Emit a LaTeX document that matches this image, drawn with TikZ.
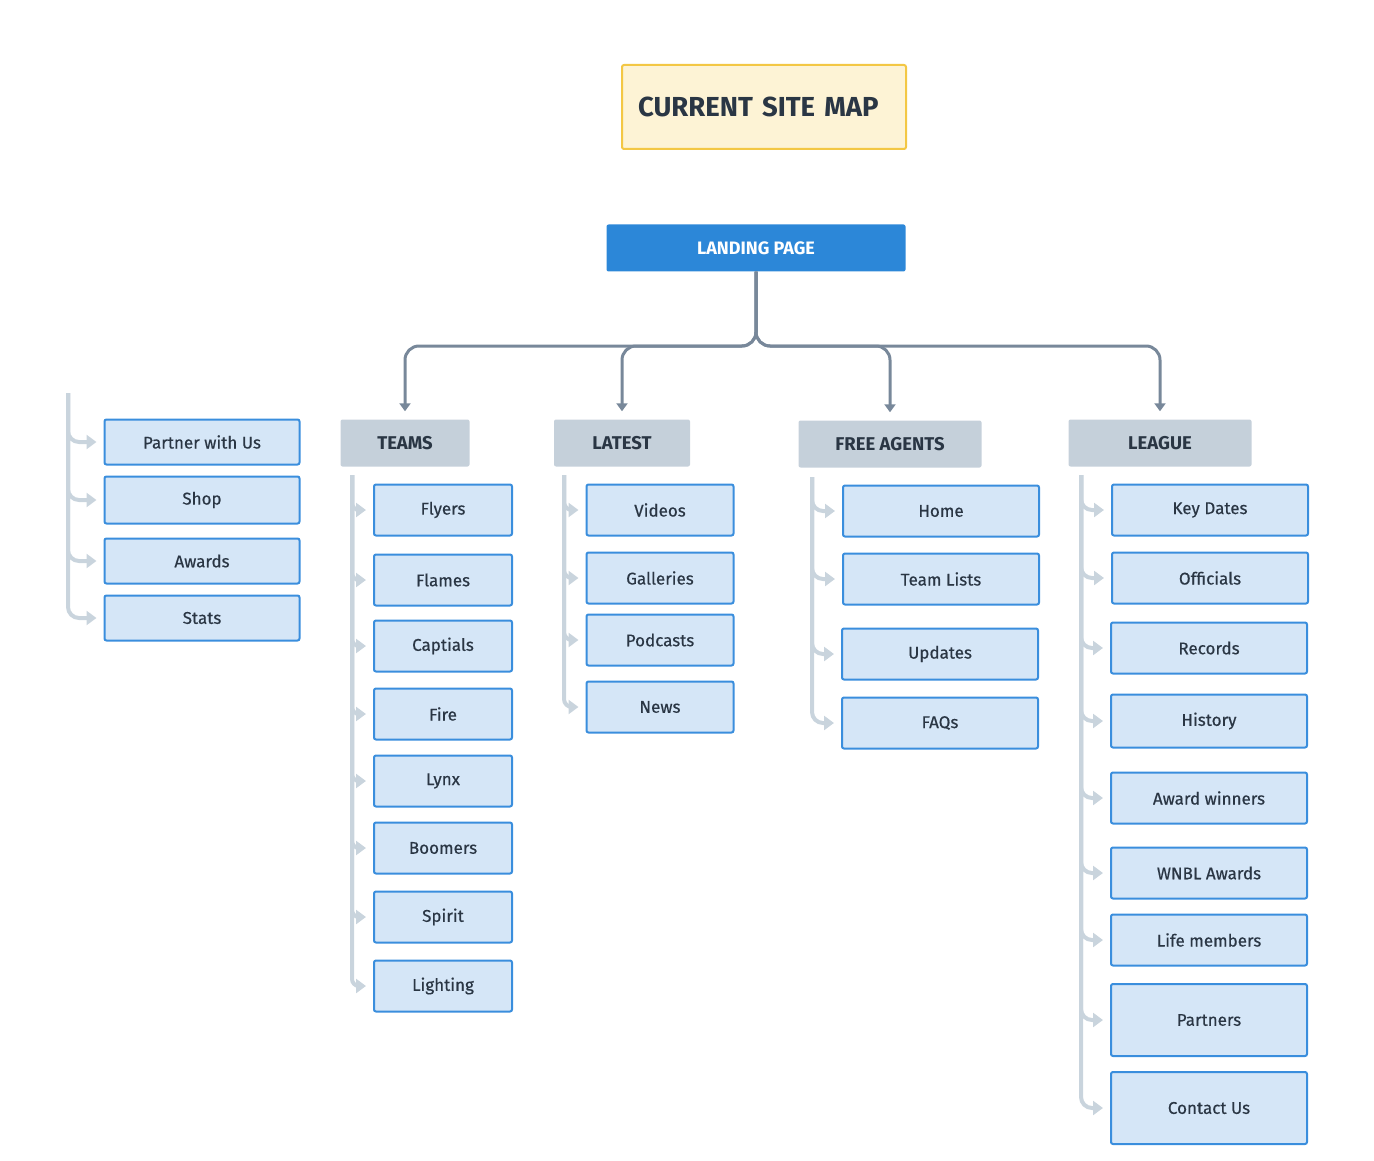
\documentclass[tikz,border=0pt]{standalone}
\usepackage{fontspec}
\setmainfont{Fira Sans}
\newfontfamily\medfont[FakeBold=0.5]{Fira Sans}
\usepackage{tikz}
\usetikzlibrary{arrows.meta}

\definecolor{titlefill}{HTML}{FDF3D5}
\definecolor{titleline}{HTML}{F3C744}
\definecolor{landfill}{HTML}{2C87D8}
\definecolor{catfill}{HTML}{C5D0DA}
\definecolor{leaffill}{HTML}{D5E6F7}
\definecolor{leafline}{HTML}{3A8EDD}
\definecolor{inkdark}{HTML}{2A3644}
\definecolor{linkgray}{HTML}{78889A}
\definecolor{twiggray}{HTML}{C9D4DD}

\tikzset{
	titlebox/.style={draw=titleline, fill=titlefill, line width=2pt, rounded corners=2pt,
		text width=252, align=left, inner xsep=16, minimum height=84,
		text=inkdark, font=\fontsize{27.5}{30}\selectfont\bfseries},
	landbox/.style={fill=landfill, rounded corners=2pt, minimum width=299, minimum height=47,
		text=white, font=\fontsize{18}{20}\selectfont\bfseries},
	catbox/.style={fill=catfill, rounded corners=2pt, minimum height=47,
		text=inkdark, font=\fontsize{18.5}{20}\selectfont\bfseries},
	leaf/.style={draw=leafline, fill=leaffill, line width=2pt, rounded corners=2pt,
		minimum height=51, text=inkdark, font=\fontsize{17}{20}\selectfont\medfont},
	link/.style={draw=linkgray, line width=3pt, rounded corners=14pt,
		-{Triangle[length=8pt,width=11pt]}, shorten >=8pt},
	twig/.style={draw=twiggray, line width=4pt, rounded corners=11pt,
		-{Triangle[length=10pt,width=14pt]}, shorten >=7pt}
}

\begin{document}
\begin{tikzpicture}[x=1pt, y=-1pt]

	\useasboundingbox (0,0) rectangle (1374,1161);

	\node[titlebox] (title) at (764,107) {CURRENT SITE MAP};
	\node[landbox] (landing) at (756,248) {LANDING PAGE};

	\node[catbox, minimum width=129] (teams) at (405,443) {TEAMS};
	\node[catbox, minimum width=136] (latest) at (622,443) {LATEST};
	\node[catbox, minimum width=183] (agents) at (890,444) {FREE AGENTS};
	\node[catbox, minimum width=183] (league) at (1160,443) {LEAGUE};

	\coordinate (bar) at (0,346);
	\foreach \h in {teams,latest,agents,league}
		\draw[link] (landing.south) |- (\h.north |- bar) -- (\h.north);

	% loose pages
	\node[leaf, minimum width=195, minimum height=45] (partner) at (202,442) {Partner with Us};
	\node[leaf, minimum width=195, minimum height=47] (shop) at (202,500) {Shop};
	\node[leaf, minimum width=195, minimum height=45] (awards) at (202,561) {Awards};
	\node[leaf, minimum width=195, minimum height=45] (stats) at (202,618) {Stats};

	% teams
	\node[leaf, minimum width=138] (flyers) at (443,510) {Flyers};
	\node[leaf, minimum width=138] (flames) at (443,580) {Flames};
	\node[leaf, minimum width=138] (captials) at (443,646) {Captials};
	\node[leaf, minimum width=138] (fire) at (443,714) {Fire};
	\node[leaf, minimum width=138] (lynx) at (443,781) {Lynx};
	\node[leaf, minimum width=138] (boomers) at (443,848) {Boomers};
	\node[leaf, minimum width=138] (spirit) at (443,917) {Spirit};
	\node[leaf, minimum width=138] (lighting) at (443,986) {Lighting};

	% latest
	\node[leaf, minimum width=147] (videos) at (660,510) {Videos};
	\node[leaf, minimum width=147] (galleries) at (660,578) {Galleries};
	\node[leaf, minimum width=147] (podcasts) at (660,640) {Podcasts};
	\node[leaf, minimum width=147] (news) at (660,707) {News};

	% free agents
	\node[leaf, minimum width=196] (home) at (941,511) {Home};
	\node[leaf, minimum width=196] (teamlists) at (941,579) {Team Lists};
	\node[leaf, minimum width=196] (updates) at (940,654) {Updates};
	\node[leaf, minimum width=196] (faqs) at (940,723) {FAQs};

	% league
	\node[leaf, minimum width=196] (keydates) at (1210,510) {Key Dates};
	\node[leaf, minimum width=196] (officials) at (1210,578) {Officials};
	\node[leaf, minimum width=196] (records) at (1209,648) {Records};
	\node[leaf, minimum width=196, minimum height=53] (history) at (1209,721) {History};
	\node[leaf, minimum width=196] (awardwinners) at (1209,798) {Award winners};
	\node[leaf, minimum width=196] (wnbl) at (1209,873) {WNBL Awards};
	\node[leaf, minimum width=196] (lifemembers) at (1209,940) {Life members};
	\node[leaf, minimum width=196, minimum height=72] (partners) at (1209,1020) {Partners};
	\node[leaf, minimum width=196, minimum height=72] (contact) at (1209,1108) {Contact Us};

	\coordinate (looseTop) at (68,393);
	\coordinate (teamsTop) at (352,475);
	\coordinate (latestTop) at (564,475);
	\coordinate (agentsTop) at (812,477);
	\coordinate (leagueTop) at (1081,475);

	\foreach \n in {partner,shop,awards,stats}
		\draw[twig] (looseTop) |- (\n.west);
	\foreach \n in {flyers,flames,captials,fire,lynx,boomers,spirit,lighting}
		\draw[twig, rounded corners=7pt] (teamsTop) |- (\n.west);
	\foreach \n in {videos,galleries,podcasts,news}
		\draw[twig, rounded corners=8pt] (latestTop) |- (\n.west);
	\foreach \n in {home,teamlists,updates,faqs}
		\draw[twig] (agentsTop) |- (\n.west);
	\foreach \n in {keydates,officials,records,history,awardwinners,wnbl,lifemembers,partners,contact}
		\draw[twig] (leagueTop) |- (\n.west);

\end{tikzpicture}
\end{document}
